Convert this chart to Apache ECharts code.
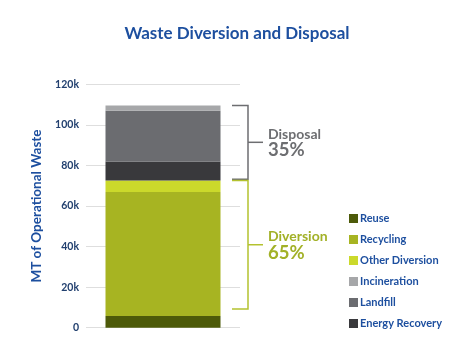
<!DOCTYPE html>
<html><head><meta charset="utf-8">
<script src="https://cdn.jsdelivr.net/npm/echarts@6/dist/echarts.min.js"></script>
<style>html,body{margin:0;padding:0;background:#fff}#c{width:474px;height:355px}</style>
</head><body><div id="c"></div>
<script>
const categories = ['Waste'];
const seriesNames = ['Reuse','Recycling','Other Diversion','Energy Recovery','Landfill','Incineration'];
const reuse = [5800];
const recycling = [61100];
const otherDiversion = [5700];
const energyRecovery = [9400];
const landfill = [25000];
const incineration = [2600];
const legendOrder = ['Reuse','Recycling','Other Diversion','Incineration','Landfill','Energy Recovery'];
const colors = {'Reuse':'#4d5a09','Recycling':'#a7b422','Other Diversion':'#cbd92b','Energy Recovery':'#39393c','Landfill':'#6b6c70','Incineration':'#a6a7a9'};
const disposalRange = [73200, 109600];
const diversionRange = [9200, 72600];
const disposalLabel = ['Disposal','35%'];
const diversionLabel = ['Diversion','65%'];
const yTicks = {min:0, max:120000, interval:20000};

const values = [reuse, recycling, otherDiversion, energyRecovery, landfill, incineration];
const chart = echarts.init(document.getElementById('c'));
const BW = 115;
chart.setOption({
  animation:false,
  title:{text:'Waste Diversion and Disposal', left:'center', top:20,
    textStyle:{fontFamily:'Lato', fontWeight:'bold', fontSize:17, color:'#1d4f9f'}},
  grid:{left:86, right:234, top:84.3, bottom:27.3},
  legend:{orient:'vertical', left:344, top:208, itemWidth:9, itemHeight:9, itemGap:10, icon:'rect',
    data:legendOrder, textStyle:{fontFamily:'Lato', fontSize:11, fontWeight:'bold', color:'#1d4f9f', padding:[0,0,0,-3]}},
  xAxis:{type:'category', data:categories, axisLine:{show:false}, axisTick:{show:false}, axisLabel:{show:false}},
  yAxis:{type:'value', min:yTicks.min, max:yTicks.max, interval:yTicks.interval,
    name:'MT of Operational Waste', nameLocation:'middle', nameGap:42,
    nameTextStyle:{fontFamily:'Lato', fontSize:13.5, fontWeight:'bold', color:'#1d4f9f'},
    axisLine:{show:false}, axisTick:{show:false},
    axisLabel:{formatter:v=>v===0?'0':(v/1000)+'k', fontFamily:'Lato', fontWeight:'bold', fontSize:10.5, color:'#22406f', margin:7},
    splitLine:{lineStyle:{color:'#dedede', width:1}}},
  series: seriesNames.map((n,i)=>({name:n, type:'bar', stack:'t', barWidth:BW, data:values[i],
    itemStyle:{color:colors[n]}}))
});

function bracket(range, color, label, textColor){
  const yTop = chart.convertToPixel({yAxisIndex:0}, range[1]);
  const yBot = chart.convertToPixel({yAxisIndex:0}, range[0]);
  const xc = chart.convertToPixel({xAxisIndex:0}, categories[0]);
  const x0 = xc + BW/2 + 11.5, x1 = x0 + 16, x2 = x1 + 15;
  const ym = (yTop+yBot)/2;
  return [
    {type:'polyline', shape:{points:[[x0,yTop],[x1,yTop],[x1,yBot],[x0,yBot]]}, style:{stroke:color, lineWidth:1.5, fill:null}},
    {type:'line', shape:{x1:x1,y1:ym,x2:x2,y2:ym}, style:{stroke:color, lineWidth:1.5}},
    {type:'text', x:x2+5, y:ym-8, style:{text:label[0], fontFamily:'Lato', fontSize:14, fontWeight:'bold', fill:textColor, verticalAlign:'middle', letterSpacing:0.8}},
    {type:'text', x:x2+5, y:ym+8, style:{text:label[1], fontFamily:'Lato', fontSize:18.5, fontWeight:'bold', fill:textColor, verticalAlign:'middle', letterSpacing:0.5}}
  ];
}
chart.setOption({graphic:[
  ...bracket(disposalRange, '#6d6e71', disposalLabel, '#6d6e71'),
  ...bracket(diversionRange, '#b4c22f', diversionLabel, '#a2b127')
]});
</script></body></html>
